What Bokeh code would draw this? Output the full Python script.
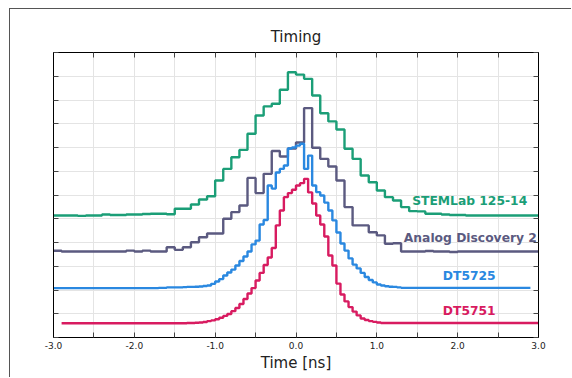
from bokeh.plotting import figure
from bokeh.models import Range1d, FixedTicker, LinearAxis, CustomJSTickFormatter, Label
from bokeh.embed import file_html
from bokeh.resources import INLINE
import numpy as np

# ---- data -------------------------------------------------------------
x_major_ticks = [-3.0, -2.0, -1.0, 0.0, 1.0, 2.0, 3.0]
x_minor_ticks = [-2.5, -1.5, -0.5, 0.5, 1.5, 2.5]
y_ticks = [0, 1, 2, 3, 4, 5, 6, 7, 8, 9, 10, 11, 12]

# coarse histograms: 0.1 ns bins starting at -3.0 ns
coarse_start = -3.0
coarse_width = 0.1
stemlab = [5.14, 5.14, 5.14, 5.12, 5.14, 5.14, 5.18, 5.16, 5.16, 5.18,
           5.18, 5.20, 5.21, 5.21, 5.19, 5.42, 5.42, 5.60, 5.81, 5.95,
           6.61, 7.10, 7.59, 7.90, 8.58, 9.35, 9.73, 9.84, 10.43, 11.17,
           11.07, 10.89, 10.19, 9.44, 9.10, 8.76, 7.95, 7.52, 6.82, 6.54,
           6.19, 5.91, 5.77, 5.49, 5.32, 5.31, 5.21, 5.21, 5.18, 5.16,
           5.16, 5.14, 5.14, 5.14, 5.14, 5.14, 5.14, 5.14, 5.14, 5.14]
ad2 = [3.65, 3.62, 3.62, 3.62, 3.62, 3.62, 3.62, 3.62, 3.62, 3.66,
       3.62, 3.66, 3.62, 3.62, 3.80, 3.69, 3.80, 4.01, 4.22, 4.38,
       4.38, 5.00, 5.28, 5.56, 6.72, 6.08, 6.89, 7.85, 7.62, 7.96,
       8.21, 9.66, 7.99, 7.52, 7.20, 6.61, 5.49, 4.72, 4.72, 4.43,
       4.30, 3.95, 3.97, 3.62, 3.62, 3.62, 3.64, 3.62, 3.62, 3.60,
       3.62, 3.62, 3.62, 3.62, 3.62, 3.62, 3.62, 3.62, 3.62, 3.62]

# fine histograms: 0.05 ns bins
fine_width = 0.05
dt5725_start = -3.0
dt5725 = [2.08] * 26 + [2.09, 2.09, 2.11, 2.11, 2.11,
          2.11, 2.12, 2.13, 2.13, 2.14, 2.15, 2.17, 2.19, 2.26, 2.36,
          2.46, 2.61, 2.74, 2.86, 3.03, 3.22, 3.41, 3.62, 3.92, 4.08,
          4.76, 4.95, 6.40, 6.27, 6.95, 7.10, 7.24, 7.96, 8.00, 8.08,
          8.16, 7.10, 7.66, 6.40, 6.12, 5.98, 5.68, 5.35, 4.93, 4.42,
          3.96, 3.66, 3.33, 3.07, 2.91, 2.72, 2.55, 2.42, 2.32, 2.23,
          2.19, 2.16, 2.14, 2.13, 2.11] + [2.09] * 32
dt5751_start = -2.9
dt5751 = [0.60] * 30 + [0.60, 0.61, 0.61, 0.62, 0.63, 0.65, 0.69, 0.72, 0.77,
          0.83, 0.91, 0.99, 1.11, 1.24, 1.41, 1.62, 1.85, 2.08, 2.40,
          2.72, 3.05, 3.37, 3.77, 4.72, 5.35, 5.91, 6.08, 6.22, 6.40,
          6.50, 6.68, 6.11, 5.64, 5.14, 4.76, 4.25, 3.45, 3.03, 2.27,
          1.81, 1.52, 1.28, 1.09, 0.93, 0.80, 0.74, 0.69, 0.66, 0.63] + [0.61] * 39

names = ["STEMLab 125-14", "Analog Discovery 2", "DT5725", "DT5751"]
colors = ["#1b9e77", "#5b5a80", "#2a88e0", "#d81b60"]
label_x = [2.86, 2.98, 2.47, 2.47]
label_y = [5.73, 4.17, 2.61, 1.10]

series = [(stemlab, coarse_start, coarse_width),
          (ad2, coarse_start, coarse_width),
          (dt5725, dt5725_start, fine_width),
          (dt5751, dt5751_start, fine_width)]

# ---- figure -----------------------------------------------------------
FONT = "DejaVu Sans"
p = figure(width=562, height=369, x_range=Range1d(-3, 3), y_range=Range1d(0, 12),
           output_backend="svg", toolbar_location=None, title="Timing",
           min_border_left=43, min_border_right=34, min_border_top=43,
           min_border_bottom=41)
p.styles = {"margin-left": "9px", "margin-top": "8px",
            "border-left": "1px solid #555555", "border-top": "1px solid #555555"}
p.background_fill_color = "white"
p.border_fill_color = "white"
p.outline_line_color = "black"
p.outline_line_width = 1

p.title.align = "center"
p.title.text_font = FONT
p.title.text_font_size = "15px"
p.title.text_font_style = "normal"
p.title.text_color = "#222222"
p.title.standoff = 13

xticker = FixedTicker(ticks=x_major_ticks, minor_ticks=x_minor_ticks)
yticker = FixedTicker(ticks=y_ticks)
blank = CustomJSTickFormatter(code="return '';")


def style_axis(ax, ticker, labels):
    ax.ticker = ticker
    ax.major_tick_in = 5
    ax.major_tick_out = 0
    ax.minor_tick_in = 5
    ax.minor_tick_out = 0
    ax.major_tick_line_color = "#444444"
    ax.minor_tick_line_color = "#444444"
    ax.axis_line_color = "black"
    if not labels:
        ax.formatter = blank
        ax.major_label_standoff = 0


xa = p.xaxis[0]
style_axis(xa, xticker, True)
xa.formatter = CustomJSTickFormatter(code="return tick.toFixed(1);")
xa.major_label_text_font = FONT
xa.major_label_text_font_size = "9px"
xa.major_label_text_color = "#222222"
xa.major_label_standoff = 4
xa.axis_label = "Time [ns]"
xa.axis_label_text_font = FONT
xa.axis_label_text_font_size = "15px"
xa.axis_label_text_font_style = "normal"
xa.axis_label_text_color = "#222222"
xa.axis_label_standoff = 2

ya = p.yaxis[0]
style_axis(ya, yticker, False)

top = LinearAxis()
style_axis(top, xticker, False)
p.add_layout(top, "above")
right = LinearAxis()
style_axis(right, yticker, False)
p.add_layout(right, "right")

p.xgrid.grid_line_color = "#e4e4e4"
p.xgrid.minor_grid_line_color = "#e4e4e4"
p.ygrid.grid_line_color = "#e4e4e4"

for (vals, start, width), color in zip(series, colors):
    n = len(vals)
    edges = np.round(start + width * np.arange(n + 1), 4)
    ys = list(vals) + [vals[-1]]
    p.step(x=edges, y=ys, mode="after", line_color=color, line_width=2.4)

for name, color, lx, ly in zip(names, colors, label_x, label_y):
    p.add_layout(Label(x=lx, y=ly, text=name, text_align="right",
                       text_baseline="middle", text_font=FONT,
                       text_font_style="bold", text_font_size="12.3px",
                       text_color=color))

open("out.html", "w").write(file_html(p, INLINE))
